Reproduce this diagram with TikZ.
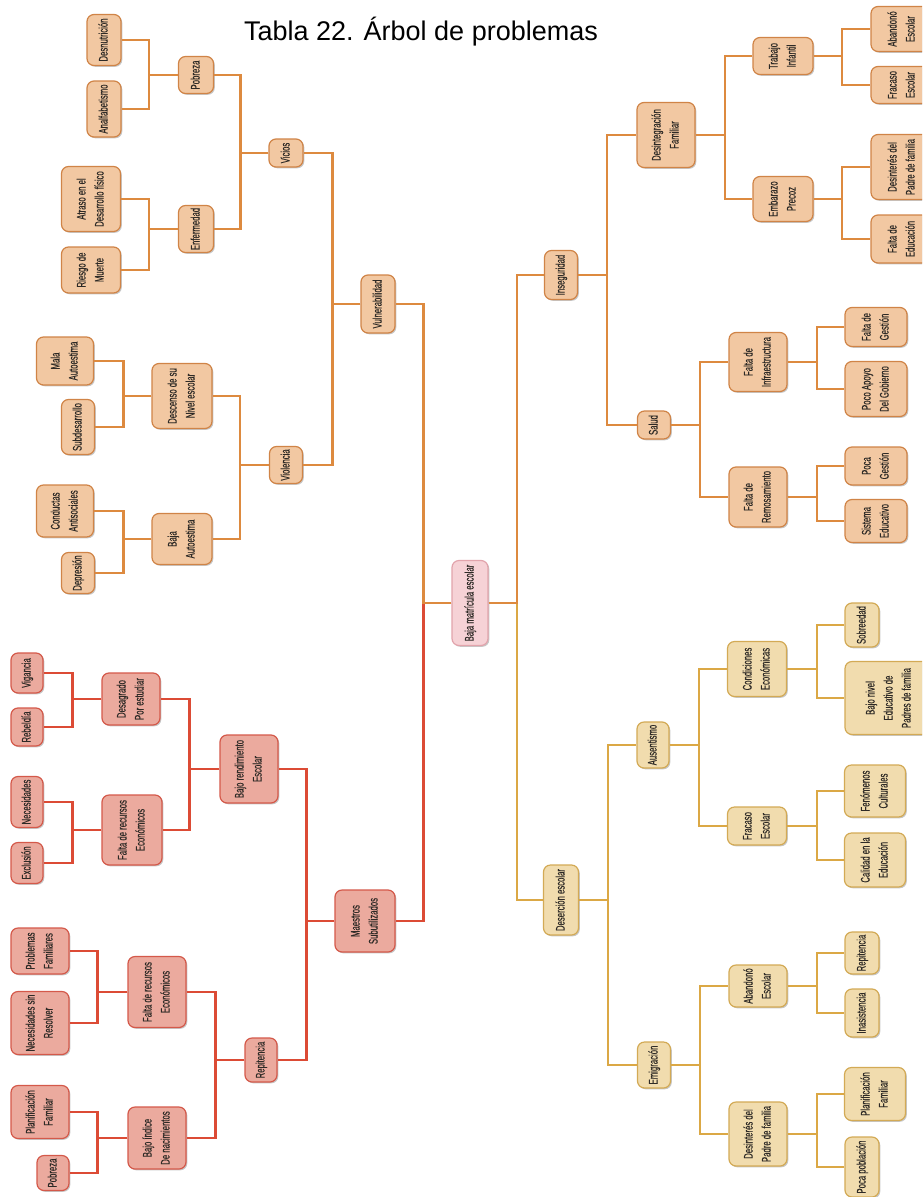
\documentclass[tikz,border=0pt]{standalone}
\usepackage{fontspec}
\usetikzlibrary{shadows}
\setmainfont{Liberation Sans}
\newfontfamily\nf[FakeStretch=0.62,FakeBold=0.35]{Liberation Sans}
\definecolor{oFill}{HTML}{F2C8A2}
\definecolor{oDraw}{HTML}{D08447}
\definecolor{oLine}{HTML}{DD8A3F}
\definecolor{rFill}{HTML}{EBAA9E}
\definecolor{rDraw}{HTML}{D4594A}
\definecolor{rLine}{HTML}{DC4B35}
\definecolor{gFill}{HTML}{F1DCAE}
\definecolor{gDraw}{HTML}{D3AA55}
\definecolor{gLine}{HTML}{DBA845}
\definecolor{pFill}{HTML}{F6D2D6}
\definecolor{pDraw}{HTML}{E2A4AC}
\definecolor{txt}{HTML}{2E2A26}
\newcommand\rt[1]{\rotatebox{90}{\begin{tabular}{@{}c@{}}#1\end{tabular}}}
\tikzset{
  box/.style={rounded corners=7pt, line width=1.2pt, inner sep=0pt, text=txt,
    font=\nf\fontsize{12.5}{18}\selectfont,
    drop shadow={shadow xshift=1.3pt, shadow yshift=-1.3pt, fill=black, opacity=0.22}},
  sz/.style 2 args={minimum width=#1pt, minimum height=#2pt},
  ob/.style={box, fill=oFill, draw=oDraw},
  rb/.style={box, fill=rFill, draw=rDraw},
  gb/.style={box, fill=gFill, draw=gDraw},
  pb/.style={box, fill=pFill, draw=pDraw},
  ol/.style={draw=oLine, line width=2.2pt},
  rl/.style={draw=rLine, line width=2.2pt},
  gl/.style={draw=gLine, line width=2.2pt},
}
\begin{document}
\begin{tikzpicture}[x=1pt, y=-1pt]
\path[use as bounding box, fill=white] (0,0) rectangle (922,1197);
\clip (0,0) rectangle (922,1197);

\node (title) at (421,32) {\fontsize{27}{30}\selectfont Tabla 22. Árbol de problemas};

% root
\node[pb, sz={36}{85}] (root) at (470,603) {\rt{Baja matrícula escolar}};

% ---- Vulnerabilidad branch (orange, left)
\node[ob, sz={34}{51}] (desn) at (104,40) {\rt{Desnutrición}};
\node[ob, sz={34}{56}] (analf) at (104,109) {\rt{Analfabetismo}};
\node[ob, sz={35}{37}] (pob1) at (196,75) {\rt{Pobreza}};
\node[ob, sz={59}{65}] (atraso) at (91,199) {\rt{Atraso en el\\Desarrollo físico}};
\node[ob, sz={59}{46}] (riesgo) at (91,270) {\rt{Riesgo de\\Muerte}};
\node[ob, sz={35}{47}] (enf) at (196,229) {\rt{Enfermedad}};
\node[ob, sz={34}{28}] (vicios) at (286,153) {\rt{Vicios}};
\node[ob, sz={34}{58}] (vuln) at (378,304) {\rt{Vulnerabilidad}};
\node[ob, sz={57}{48}] (mala) at (65,361) {\rt{Mala\\Autoestima}};
\node[ob, sz={33}{55}] (subd) at (78,427) {\rt{Subdesarrollo}};
\node[ob, sz={60}{65}] (desc) at (182,396) {\rt{Descenso de su\\Nivel escolar}};
\node[ob, sz={33}{37}] (viol) at (286,465) {\rt{Violencia}};
\node[ob, sz={57}{52}] (conduc) at (65,511) {\rt{Conductas\\Antisociales}};
\node[ob, sz={33}{41}] (depr) at (78,573) {\rt{Depresión}};
\node[ob, sz={60}{51}] (bajaa) at (182,539) {\rt{Baja\\Autoestima}};

% ---- Maestros branch (red, left)
\node[rb, sz={60}{62}] (maes) at (365,921) {\rt{Maestros\\Subutilizados}};
\node[rb, sz={58}{68}] (bajor) at (249,769) {\rt{Bajo rendimiento\\Escolar}};
\node[rb, sz={58}{52}] (desag) at (131,699) {\rt{Desagrado\\Por estudiar}};
\node[rb, sz={32}{40}] (vig) at (27,673) {\rt{Vigancia}};
\node[rb, sz={32}{38}] (rebel) at (27,727) {\rt{Rebeldía}};
\node[rb, sz={60}{70}] (falta1) at (132,830) {\rt{Falta de recursos\\Económicos}};
\node[rb, sz={32}{51}] (neces) at (27,802) {\rt{Necesidades}};
\node[rb, sz={32}{41}] (excl) at (27,863) {\rt{Exclusión}};
\node[rb, sz={32}{44}] (repit) at (261,1060) {\rt{Repitencia}};
\node[rb, sz={58}{71}] (falta2) at (157,992) {\rt{Falta de recursos\\Económicos}};
\node[rb, sz={58}{46}] (probl) at (40,951) {\rt{Problemas\\Familiares}};
\node[rb, sz={58}{63}] (nsr) at (40,1023) {\rt{Necesidades sin\\Resolver}};
\node[rb, sz={58}{62}] (bajoi) at (157,1138) {\rt{Bajo índice\\De nacimientos}};
\node[rb, sz={58}{53}] (planf1) at (40,1112) {\rt{Planificación\\Familiar}};
\node[rb, sz={32}{35}] (pob2) at (53,1173) {\rt{Pobreza}};

% ---- Inseguridad branch (orange, right)
\node[ob, sz={33}{49}] (inseg) at (561,275) {\rt{Inseguridad}};
\node[ob, sz={58}{65}] (desint) at (666,135) {\rt{Desintegración\\Familiar}};
\node[ob, sz={60}{37}] (trab) at (783,56) {\rt{Trabajo\\Infantil}};
\node[ob, sz={62}{45}] (aband1) at (902,29) {\rt{Abandonó\\Escolar}};
\node[ob, sz={62}{37}] (fracas1) at (902,85) {\rt{Fracaso\\Escolar}};
\node[ob, sz={60}{45}] (embar) at (783,199) {\rt{Embarazo\\Precoz}};
\node[ob, sz={62}{65}] (desin1) at (902,167) {\rt{Desinterés del\\Padre de familia}};
\node[ob, sz={62}{48}] (faltaed) at (902,239) {\rt{Falta de\\Educación}};
\node[ob, sz={33}{28}] (salud) at (654,425) {\rt{Salud}};
\node[ob, sz={58}{59}] (finfra) at (758,362) {\rt{Falta de\\Infraestructura}};
\node[ob, sz={62}{39}] (fgest) at (876,327) {\rt{Falta de\\Gestión}};
\node[ob, sz={62}{55}] (poco) at (876,389) {\rt{Poco Apoyo\\Del Gobierno}};
\node[ob, sz={58}{60}] (frem) at (758,497) {\rt{Falta de\\Remosamiento}};
\node[ob, sz={62}{38}] (pocag) at (876,466) {\rt{Poca\\Gestión}};
\node[ob, sz={62}{43}] (sist) at (876,521) {\rt{Sistema\\Educativo}};

% ---- Deserción branch (gold, right)
\node[gb, sz={35}{70}] (deser) at (561,900) {\rt{Deserción escolar}};
\node[gb, sz={32}{46}] (ausen) at (653,745) {\rt{Ausentismo}};
\node[gb, sz={59}{55}] (conde) at (757,669) {\rt{Condiciones\\Económicas}};
\node[gb, sz={34}{44}] (sobre) at (862,625) {\rt{Sobreedad}};
\node[gb, sz={88}{73}] (bajon) at (889,698) {\rt{Bajo nivel\\Educativo de\\Padres de familia}};
\node[gb, sz={59}{38}] (fracas2) at (757,826) {\rt{Fracaso\\Escolar}};
\node[gb, sz={61}{52}] (fenom) at (875,791) {\rt{Fenómenos\\Culturales}};
\node[gb, sz={61}{54}] (calid) at (875,860) {\rt{Calidad en la\\Educación}};
\node[gb, sz={33}{46}] (emig) at (654,1065) {\rt{Emigración}};
\node[gb, sz={58}{42}] (aband2) at (758,986) {\rt{Abandonó\\Escolar}};
\node[gb, sz={34}{42}] (repit2) at (862,953) {\rt{Repitencia}};
\node[gb, sz={34}{48}] (inas) at (862,1013) {\rt{Inasistencia}};
\node[gb, sz={58}{64}] (desin2) at (758,1134) {\rt{Desinterés del\\Padre de familia}};
\node[gb, sz={61}{53}] (planf2) at (875,1094) {\rt{Planificación\\Familiar}};
\node[gb, sz={34}{60}] (pocap) at (862,1167) {\rt{Poca población}};

% ---- connectors, left side
\draw[rl] (root.west) -- ++(-28,0) |- (maes.east);
\draw[ol] (root.west) -- ++(-28,0) |- (vuln.east);
\foreach \c in {desn,analf} \draw[ol] (pob1.west) -- ++(-29,0) |- (\c.east);
\foreach \c in {atraso,riesgo} \draw[ol] (enf.west) -- ++(-29,0) |- (\c.east);
\foreach \c in {pob1,enf} \draw[ol] (vicios.west) -- ++(-28,0) |- (\c.east);
\foreach \c in {vicios,viol} \draw[ol] (vuln.west) -- ++(-28,0) |- (\c.east);
\foreach \c in {mala,subd} \draw[ol] (desc.west) -- ++(-28,0) |- (\c.east);
\foreach \c in {conduc,depr} \draw[ol] (bajaa.west) -- ++(-28,0) |- (\c.east);
\foreach \c in {desc,bajaa} \draw[ol] (viol.west) -- ++(-29,0) |- (\c.east);
\foreach \c in {bajor,repit} \draw[rl] (maes.west) -- ++(-28,0) |- (\c.east);
\foreach \c in {desag,falta1} \draw[rl] (bajor.west) -- ++(-30,0) |- (\c.east);
\foreach \c in {vig,rebel} \draw[rl] (desag.west) -- ++(-29,0) |- (\c.east);
\foreach \c in {neces,excl} \draw[rl] (falta1.west) -- ++(-29,0) |- (\c.east);
\foreach \c in {falta2,bajoi} \draw[rl] (repit.west) -- ++(-29,0) |- (\c.east);
\foreach \c in {probl,nsr} \draw[rl] (falta2.west) -- ++(-30,0) |- (\c.east);
\foreach \c in {planf1,pob2} \draw[rl] (bajoi.west) -- ++(-30,0) |- (\c.east);

% ---- connectors, right side
\draw[gl] (root.east) -- ++(28,0) |- (deser.west);
\draw[ol] (root.east) -- ++(28,0) |- (inseg.west);
\foreach \c in {desint,salud} \draw[ol] (inseg.east) -- ++(29,0) |- (\c.west);
\foreach \c in {trab,embar} \draw[ol] (desint.east) -- ++(29,0) |- (\c.west);
\foreach \c in {aband1,fracas1} \draw[ol] (trab.east) -- ++(28,0) |- (\c.west);
\foreach \c in {desin1,faltaed} \draw[ol] (embar.east) -- ++(28,0) |- (\c.west);
\foreach \c in {finfra,frem} \draw[ol] (salud.east) -- ++(28.5,0) |- (\c.west);
\foreach \c in {fgest,poco} \draw[ol] (finfra.east) -- ++(29,0) |- (\c.west);
\foreach \c in {pocag,sist} \draw[ol] (frem.east) -- ++(29,0) |- (\c.west);
\foreach \c in {ausen,emig} \draw[gl] (deser.east) -- ++(28.5,0) |- (\c.west);
\foreach \c in {conde,fracas2} \draw[gl] (ausen.east) -- ++(29,0) |- (\c.west);
\foreach \c in {sobre,bajon} \draw[gl] (conde.east) -- ++(29.5,0) |- (\c.west);
\foreach \c in {fenom,calid} \draw[gl] (fracas2.east) -- ++(29.5,0) |- (\c.west);
\foreach \c in {aband2,desin2} \draw[gl] (emig.east) -- ++(28.5,0) |- (\c.west);
\foreach \c in {repit2,inas} \draw[gl] (aband2.east) -- ++(29,0) |- (\c.west);
\foreach \c in {planf2,pocap} \draw[gl] (desin2.east) -- ++(29,0) |- (\c.west);
\end{tikzpicture}
\end{document}
